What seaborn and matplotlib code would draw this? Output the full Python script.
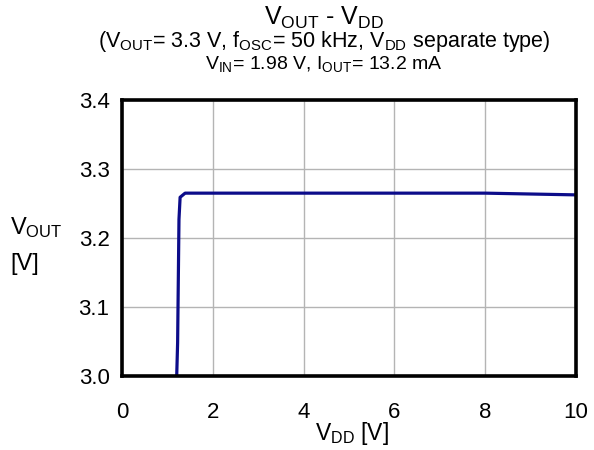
import matplotlib
matplotlib.use("Agg")
import matplotlib.pyplot as plt
import seaborn as sns
import pandas as pd

vdd = [1.205, 1.225, 1.255, 1.28, 1.39, 2.0, 4.0, 6.0, 8.0, 10.0]
vout = [3.000, 3.048, 3.227, 3.259, 3.265, 3.265, 3.265, 3.265, 3.265, 3.2625]
xticks = [0, 2, 4, 6, 8, 10]
yticks = [3.0, 3.1, 3.2, 3.3, 3.4]

sns.set_theme(style="white")
plt.rcParams['font.family'] = ['Liberation Sans', 'DejaVu Sans']
plt.rcParams['mathtext.default'] = 'regular'
plt.rcParams['text.color'] = 'black'

df = pd.DataFrame({"VDD": vdd, "VOUT": vout})

fig = plt.figure(figsize=(5.94, 4.5), dpi=100)
ax = fig.add_axes([122/594, 74/450, 454/594, 276/450])
sns.lineplot(data=df, x="VDD", y="VOUT", sort=False, color="#0c0c8a", lw=2.3, ax=ax, estimator=None)

ax.set_xlim(0, 10)
ax.set_ylim(3.0, 3.4)
ax.set_xticks(xticks)
ax.set_xticklabels([str(t) for t in xticks])
ax.set_yticks(yticks)
ax.set_yticklabels([f"{t:.1f}" for t in yticks])
ax.grid(True, color="#b4b4b4", lw=1)
ax.set_axisbelow(True)
for s in ax.spines.values():
    s.set_color("black")
    s.set_linewidth(2.6)
    s.set_visible(True)
ax.tick_params(axis="both", length=0, labelsize=16, colors="black")
ax.tick_params(axis="x", pad=19)
ax.tick_params(axis="y", pad=9)
ax.set_xlabel("")
ax.set_ylabel("")

fig.text(352/594, 1 - 440/450, "$V_{DD}$ [V]", fontsize=16.5, ha="center", va="baseline", color="black")
fig.text(10/594, 1 - 234/450, "$V_{OUT}$", fontsize=17, ha="left", va="baseline", color="black")
fig.text(10/594, 1 - 270/450, "[V]", fontsize=17, ha="left", va="baseline", color="black")

fig.text(324/594, 1 - 18/450, "$V_{OUT}$ - $V_{DD}$", fontsize=18, ha="center", va="center", color="black")
fig.text(324/594, 1 - 42/450, "($V_{OUT}$= 3.3 V, $f_{OSC}$= 50 kHz, $V_{DD}$ separate type)", fontsize=15.5, ha="center", va="center", color="black")
fig.text(324/594, 1 - 64/450, "$V_{IN}$= 1.98 V, $I_{OUT}$= 13.2 mA", fontsize=14, ha="center", va="center", color="black")

fig.savefig("out.png", dpi=100)
